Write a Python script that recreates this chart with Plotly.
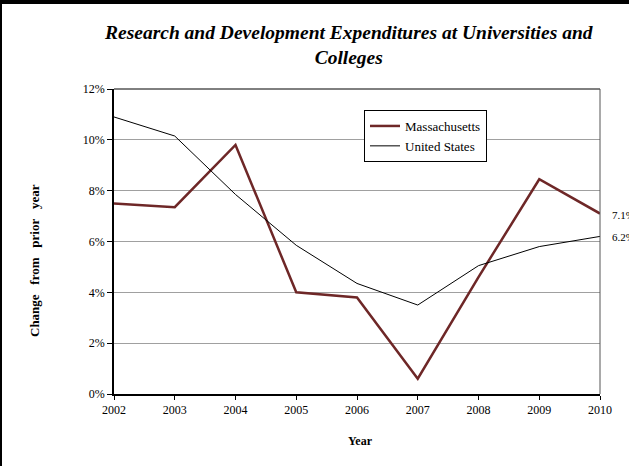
import plotly.graph_objects as go

years = [2002, 2003, 2004, 2005, 2006, 2007, 2008, 2009, 2010]
massachusetts = [7.5, 7.35, 9.8, 4.0, 3.8, 0.6, 4.6, 8.45, 7.1]
united_states = [10.9, 10.15, 7.85, 5.85, 4.35, 3.5, 5.05, 5.8, 6.2]
y_ticks = [0, 2, 4, 6, 8, 10, 12]
y_tick_labels = ["0%", "2%", "4%", "6%", "8%", "10%", "12%"]

FONT = "Liberation Serif, Times New Roman, serif"
L, R, T, B = 114, 29, 89, 72
W, H = 629, 466
pw, ph = W - L - R, H - T - B

def px(x):
    return (x - L) / pw

def py(y):
    return (H - B - y) / ph

fig = go.Figure()
fig.add_trace(go.Scatter(x=years, y=massachusetts, mode="lines", name="Massachusetts",
                         line=dict(color="#6e2727", width=2.5)))
fig.add_trace(go.Scatter(x=years, y=united_states, mode="lines", name="United States",
                         line=dict(color="black", width=1)))

fig.update_layout(
    width=W, height=H,
    margin=dict(l=L, r=R, t=T, b=B, autoexpand=False),
    paper_bgcolor="white", plot_bgcolor="white",
    font=dict(family=FONT, size=12, color="black"),
    showlegend=True,
    legend=dict(x=px(364), y=py(110), xanchor="left", yanchor="top",
                bordercolor="black", borderwidth=1, bgcolor="white",
                font=dict(family=FONT, size=13), tracegroupgap=0),
    xaxis=dict(range=[2002, 2010], tickmode="array", tickvals=years,
               ticks="outside", ticklen=4, tickcolor="black", automargin=False,
               showline=True, linecolor="black", linewidth=2, mirror=False,
               showgrid=False, zeroline=False, tickfont=dict(size=12)),
    yaxis=dict(range=[0, 12], tickmode="array", tickvals=y_ticks, ticktext=y_tick_labels,
               ticks="outside", ticklen=5, tickcolor="black", automargin=False,
               showline=True, linecolor="black", linewidth=1.5, mirror=False,
               showgrid=True, gridcolor="#a0a0a0", gridwidth=1, zeroline=False,
               tickfont=dict(size=12)),
)

# plot area frame (top and right)
fig.add_shape(type="line", xref="paper", yref="paper", x0=0, x1=1, y0=1, y1=1,
              line=dict(color="black", width=1))
fig.add_shape(type="line", xref="paper", yref="paper", x0=1, x1=1, y0=0, y1=1,
              line=dict(color="#555555", width=1))
# outer chart border (top and left)
fig.add_shape(type="rect", xref="paper", yref="paper", x0=px(0), x1=px(W), y0=py(0), y1=py(4),
              fillcolor="black", line=dict(width=0), layer="above")
fig.add_shape(type="rect", xref="paper", yref="paper", x0=px(0), x1=px(2), y0=py(0), y1=py(H),
              fillcolor="black", line=dict(width=0), layer="above")

fig.add_annotation(text="<b><i>Research and Development Expenditures at Universities and<br>Colleges</i></b>",
                   xref="paper", yref="paper", x=px(348), y=py(20), xanchor="center", yanchor="top",
                   showarrow=False, font=dict(family=FONT, size=19.5), align="center")

# axis titles
fig.add_annotation(text="<b>Year</b>", xref="paper", yref="paper", x=px(360), y=py(441),
                   xanchor="center", yanchor="middle", showarrow=False, font=dict(size=12))
fig.add_annotation(text="<b>Change\u00a0\u00a0 from\u00a0\u00a0 prior\u00a0\u00a0 year</b>",
                   xref="paper", yref="paper",
                   x=px(34), y=py(261), xanchor="center", yanchor="middle", textangle=-90,
                   showarrow=False, font=dict(size=13))

# end-of-line value labels (cut by the right edge, as in the reference)
fig.add_annotation(text=f"{massachusetts[-1]:.1f}%", x=years[-1], y=massachusetts[-1],
                   xanchor="left", yanchor="middle", xshift=10, yshift=-1, showarrow=False,
                   font=dict(size=11))
fig.add_annotation(text=f"{united_states[-1]:.1f}%", x=years[-1], y=united_states[-1],
                   xanchor="left", yanchor="middle", xshift=10, yshift=-1, showarrow=False,
                   font=dict(size=11))

fig.write_html("out.html", config={"displayModeBar": False},
               post_script="document.body.style.margin='0';")
